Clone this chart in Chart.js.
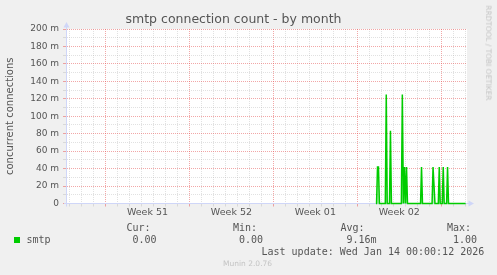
<!DOCTYPE html>
<html><head><meta charset="utf-8">
<script src="https://cdn.jsdelivr.net/npm/chart.js@4.4.1/dist/chart.umd.min.js"></script>
<style>
html,body{margin:0;padding:0;background:#f0f0f0;width:497px;height:275px;overflow:hidden}
#wrap{position:relative;width:497px;height:275px}
canvas{position:absolute;left:0;top:0}
.t{position:absolute;font-family:"DejaVu Sans Mono",monospace;font-size:10px;line-height:12px;color:#555;white-space:pre}
</style></head><body>
<div id="wrap"><canvas id="c" width="497" height="275"></canvas></div>
<script>
// ---- data ----
const seriesName = 'smtp';
const chartTitle = 'smtp connection count - by month';
const yAxisTitle = 'concurrent connections';
// time in days since Dec 12 00:00, value = 2-hour average of concurrent connections
const sampleDays = [25.55, 25.60, 25.68, 25.76, 25.84,
  26.33, 26.41, 26.49,
  26.68, 26.76, 26.84,
  27.67, 27.75, 27.84, 27.93, 28.01, 28.10, 28.18,
  29.27, 29.35, 29.43,
  30.23, 30.31, 30.39, 30.47,
  30.75, 30.83, 30.91,
  31.08, 31.16, 31.24,
  31.44, 31.52, 31.60,
  33.03];
const sampleValues = [0, 0, 0.0417, 0.0417, 0,
  0, 0.125, 0,
  0, 0.0833, 0,
  0, 0.125, 0, 0.0417, 0, 0.0417, 0,
  0, 0.0417, 0,
  0, 0.0417, 0.0417, 0,
  0, 0.0417, 0,
  0, 0.0417, 0,
  0, 0.0417, 0,
  0];
const weekStartDays = [3, 10, 17, 24, 31];
const weekLabelDays = [6.5, 13.5, 20.5, 27.5];
const weekLabels = ['Week 51', 'Week 52', 'Week 01', 'Week 02'];
const xRange = [-0.294, 33.142];
const yRange = [0, 0.2];
const legendHeaders = ['Cur:', 'Min:', 'Avg:', 'Max:'];
const legendValues = ['0.00', '0.00', '9.16m', '1.00'];
const lastUpdate = 'Last update: Wed Jan 14 00:00:12 2026';
const footerText = 'Munin 2.0.76';
const watermark = 'RRDTOOL / TOBI OETIKER';

// ---- styles ----
const AXIS = '#cfd6f8';
const MINOR = 'rgba(175,175,175,0.38)';
const MAJOR = 'rgba(230,80,80,0.5)';
const FONT = '"DejaVu Sans", sans-serif';
const TXT = '#555';

const points = sampleDays.map((d, i) => ({x: d, y: sampleValues[i]}));

const xTicks = [];
for (let d = Math.ceil(xRange[0]); d <= Math.floor(xRange[1]); d++) xTicks.push({value: d});
weekLabelDays.forEach(d => xTicks.push({value: d}));
xTicks.sort((a, b) => a.value - b.value);
const isLabelDay = v => weekLabelDays.some(d => Math.abs(d - v) < 1e-6);
const isWeekStart = v => weekStartDays.some(d => Math.abs(d - v) < 1e-6);
const xGridColor = ctx => {
  if (!ctx.tick) return MINOR;
  const v = ctx.tick.value;
  if (isLabelDay(v)) return 'rgba(0,0,0,0)';
  return isWeekStart(v) ? MAJOR : MINOR;
};
const yMajor = v => Math.round(v * 1000) % 20 === 0;
const yGridColor = ctx => (ctx.tick && yMajor(ctx.tick.value)) ? MAJOR : MINOR;

const bgPlugin = {
  id: 'bg',
  beforeDraw(chart) {
    const {ctx, chartArea: a} = chart;
    ctx.save(); ctx.fillStyle = '#ffffff';
    ctx.fillRect(a.left, a.top, a.right - a.left, a.bottom - a.top);
    ctx.restore();
  },
  afterDraw(chart) {
    const {ctx, chartArea: a} = chart;
    const x0 = Math.floor(a.left) + 0.5, yb = Math.floor(a.bottom) + 0.5;
    ctx.save();
    ctx.strokeStyle = AXIS; ctx.fillStyle = AXIS; ctx.lineWidth = 1;
    ctx.beginPath();
    ctx.moveTo(x0, a.top); ctx.lineTo(x0, a.top - 4);
    ctx.moveTo(x0, a.bottom); ctx.lineTo(x0, a.bottom + 3);
    ctx.moveTo(a.left - 2, yb); ctx.lineTo(a.left, yb);
    ctx.moveTo(a.right, yb); ctx.lineTo(a.right + 3, yb);
    ctx.stroke();
    ctx.beginPath();
    ctx.moveTo(x0, a.top - 7); ctx.lineTo(x0 - 3, a.top - 1.5); ctx.lineTo(x0 + 3, a.top - 1.5); ctx.closePath(); ctx.fill();
    ctx.beginPath();
    ctx.moveTo(a.right + 7, yb); ctx.lineTo(a.right + 1.5, yb - 3); ctx.lineTo(a.right + 1.5, yb + 3); ctx.closePath(); ctx.fill();
    ctx.restore();
  }
};

new Chart(document.getElementById('c'), {
  type: 'line',
  data: {datasets: [{
    label: seriesName,
    data: points,
    borderColor: '#00cc00',
    backgroundColor: 'rgba(0,204,0,0.3)',
    fill: 'origin',
    borderWidth: 1.5,
    pointRadius: 0,
    tension: 0,
    clip: false
  }]},
  options: {
    responsive: false,
    animation: false,
    devicePixelRatio: 1,
    layout: {padding: {left: 0, right: 30, top: 0, bottom: 0}},
    plugins: {
      legend: {display: false},
      tooltip: {enabled: false},
      title: {display: true, text: chartTitle, color: TXT,
        font: {family: FONT, size: 12.5, weight: 'normal', lineHeight: 1.2},
        padding: {top: 12, bottom: 2}}
    },
    scales: {
      x: {
        type: 'linear', min: xRange[0], max: xRange[1],
        afterBuildTicks: s => { s.ticks = xTicks.map(t => ({value: t.value})); },
        afterFit: s => { s.height = 71.5; },
        ticks: {
          autoSkip: false, maxRotation: 0, minRotation: 0, padding: 0,
          color: TXT, font: {family: FONT, size: 9.5},
          callback: v => { const i = weekLabelDays.findIndex(d => Math.abs(d - v) < 1e-6); return i >= 0 ? weekLabels[i] : ''; }
        },
        grid: {color: xGridColor, tickColor: xGridColor, tickLength: 3, lineWidth: 1},
        border: {display: true, color: AXIS, width: 1, dash: [1, 1]}
      },
      y: {
        type: 'linear', min: yRange[0], max: yRange[1],
        afterBuildTicks: s => { const t = []; for (let i = 0; i <= 20; i++) t.push({value: i / 100}); s.ticks = t; },
        afterFit: s => { s.width = 66; },
        ticks: {
          autoSkip: false, padding: 4, color: TXT, font: {family: FONT, size: 9},
          callback: v => yMajor(v) ? (v === 0 ? '0' : Math.round(v * 1000) + ' m') : ''
        },
        grid: {color: yGridColor, tickColor: yGridColor, tickLength: 3, lineWidth: 1},
        border: {display: true, color: AXIS, width: 1, dash: [1, 1]},
        title: {display: true, text: yAxisTitle, color: TXT, font: {family: FONT, size: 10}, padding: {top: 4, bottom: 0}}
      }
    }
  },
  plugins: [bgPlugin]
});

// ---- legend / footer as real text ----
const wrap = document.getElementById('wrap');
function addText(txt, left, cy, extra) {
  const d = document.createElement('div');
  d.className = 't'; d.textContent = txt;
  d.style.left = left + 'px'; d.style.top = (cy - 6) + 'px';
  if (extra) Object.assign(d.style, extra);
  wrap.appendChild(d); return d;
}
const sq = document.createElement('div');
Object.assign(sq.style, {position: 'absolute', left: '14px', top: '237px', width: '6px', height: '6px', background: '#00cc00'});
wrap.appendChild(sq);
addText(seriesName, 26.5, 239.5);
const colX = [126.5, 233, 340.5, 447];
legendHeaders.forEach((h, i) => addText(h, colX[i], 228));
legendValues.forEach((v, i) => addText(v, colX[i] + 6, 239.5));
addText(lastUpdate, 261.5, 251.5);
addText(footerText, 223, 263.5, {fontFamily: FONT, fontSize: '7.5px', color: '#c4c4c4'});
addText(watermark, 488, 52.5, {fontFamily: FONT, fontSize: '7.4px', color: '#c4c4c4', transform: 'translate(-50%,-50%) rotate(90deg)', top: '52.5px'});
</script>
</body></html>
